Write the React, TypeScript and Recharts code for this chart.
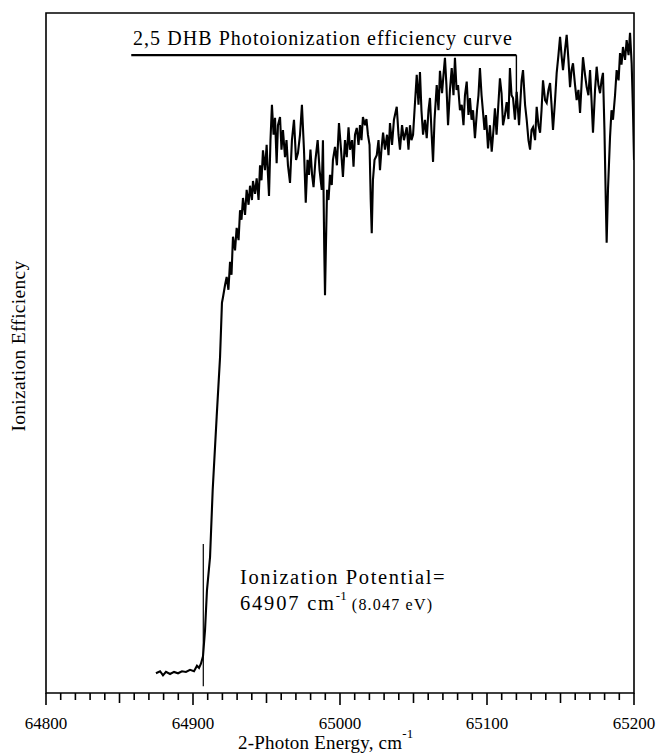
import { LineChart, Line, XAxis, YAxis, ReferenceArea, ReferenceLine, Customized } from 'recharts'

// [2-photon energy (cm-1), ionization efficiency (arb.)]
const ONSET: [number, number][] = [
  [64874.8, 2.9], [64877.6, 3.2], [64879.6, 2.6], [64881.6, 3.1], [64884.4, 2.8], [64887.1, 3.1],
  [64889.8, 2.9], [64892.5, 3.2], [64895.2, 3.1], [64898.0, 3.4], [64900.7, 3.2], [64902.7, 4.0],
  [64904.1, 3.7], [64905.4, 4.3], [64906.8, 5.4],
]

const RISE: [number, number][] = [
  [64908.2, 9.3], [64909.5, 15.1], [64911.6, 20.0], [64913.4, 29.9], [64916.1, 40.6], [64918.4, 49.4],
  [64919.7, 57.4], [64920.4, 58.2], [64921.8, 60.0], [64922.9, 61.2], [64924.1, 59.3], [64925.2, 63.4],
  [64926.2, 61.5], [64927.2, 67.1], [64928.6, 65.1], [64929.7, 68.4], [64931.0, 66.6], [64932.0, 71.0],
  [64933.0, 69.6], [64934.0, 72.8], [64935.4, 70.3], [64936.5, 74.0], [64937.8, 71.8], [64938.8, 74.6],
  [64940.1, 72.5], [64940.8, 75.3], [64942.2, 73.4], [64943.3, 75.7], [64944.6, 72.5], [64945.6, 77.6],
  [64946.6, 75.4], [64947.6, 79.8], [64949.0, 76.9], [64950.1, 80.6],
]

const PLATEAU_A: [number, number][] = [
  [64951.0, 76.2], [64951.7, 73.1], [64952.7, 81.3], [64953.7, 86.5], [64954.8, 82.1], [64955.8, 84.6],
  [64956.9, 77.9], [64957.8, 83.5], [64959.2, 84.7], [64960.2, 79.9], [64961.2, 82.8], [64962.6, 78.8],
  [64963.6, 81.3], [64964.6, 77.6], [64966.0, 75.0], [64967.3, 81.3], [64968.7, 84.3], [64970.1, 78.4],
  [64971.4, 79.4], [64972.8, 82.1], [64974.1, 86.5], [64975.5, 79.9], [64976.7, 72.1], [64977.9, 78.4],
  [64978.9, 76.2], [64979.9, 79.9], [64981.0, 76.2], [64982.0, 74.4], [64983.3, 78.4], [64984.8, 81.3],
  [64986.1, 76.9], [64987.6, 74.0], [64988.4, 81.3], [64989.3, 65.1], [64989.8, 58.5], [64990.5, 66.6],
  [64991.2, 74.0], [64992.2, 72.5], [64993.2, 76.2], [64994.4, 74.7], [64995.2, 78.4], [64996.6, 80.3],
  [64997.9, 77.6], [64999.3, 83.8],
]

const PLATEAU_B: [number, number][] = [
  [65000.7, 79.9], [65002.0, 75.9], [65003.4, 81.3], [65004.6, 78.8], [65005.8, 83.2], [65006.8, 79.9],
  [65008.2, 81.3], [65009.2, 77.4], [65010.2, 82.1], [65011.4, 83.1], [65012.6, 80.6], [65013.6, 83.5],
  [65014.6, 81.3], [65015.6, 84.7], [65017.0, 83.5], [65018.0, 84.4], [65019.0, 82.1], [65020.1, 80.6],
  [65020.9, 72.5], [65021.6, 67.6], [65022.4, 75.4], [65023.5, 78.4], [65025.0, 79.1], [65026.2, 81.3],
  [65027.2, 76.9], [65028.2, 79.9], [65029.3, 82.4], [65030.6, 79.9], [65032.0, 82.1], [65033.0, 79.1],
  [65034.0, 83.8], [65035.4, 80.6], [65036.7, 84.3], [65038.6, 86.2], [65039.8, 82.1], [65040.8, 79.9],
  [65042.2, 83.5], [65043.5, 81.3], [65045.4, 83.2], [65046.6, 79.9], [65047.6, 83.5], [65048.6, 81.3],
  [65049.7, 82.1], [65050.7, 85.7], [65052.2, 90.9], [65053.4, 86.5], [65054.4, 91.3], [65055.4, 85.7],
  [65056.5, 82.1], [65057.8, 84.3], [65059.0, 81.6], [65060.2, 85.7], [65061.2, 87.5], [65062.2, 82.8],
  [65063.3, 78.1], [65064.3, 84.3], [65065.8, 89.4], [65067.0, 85.7], [65068.0, 91.5], [65069.4, 88.2],
  [65070.4, 90.9], [65071.4, 93.4], [65072.4, 89.4], [65073.5, 83.5], [65074.8, 88.7], [65076.0, 91.9],
  [65077.2, 87.9], [65078.2, 93.4], [65079.3, 88.7], [65080.3, 89.4], [65081.6, 85.7], [65082.8, 86.5],
  [65084.0, 83.5], [65085.0, 87.9], [65086.2, 89.9], [65087.4, 85.0], [65088.4, 87.5], [65089.5, 84.3],
  [65090.5, 85.7], [65091.8, 81.6], [65093.2, 85.7], [65094.2, 87.9], [65095.2, 91.9], [65096.3, 87.9],
  [65097.3, 85.4], [65098.3, 82.8], [65099.3, 85.0],
]

const PLATEAU_C: [number, number][] = [
  [65100.7, 80.1], [65102.0, 83.5], [65103.2, 79.6], [65104.4, 82.8], [65105.4, 86.0], [65106.5, 82.1],
  [65107.5, 85.7], [65108.8, 90.4], [65109.9, 88.2], [65110.9, 83.5], [65112.2, 85.0], [65113.4, 86.9],
  [65114.6, 84.4], [65115.6, 91.9], [65116.7, 87.9], [65117.7, 87.5], [65119.0, 84.3], [65120.2, 88.4],
  [65121.8, 83.5], [65123.5, 90.0], [65124.5, 91.6], [65125.9, 86.5], [65127.0, 84.3], [65128.2, 81.3],
  [65129.3, 79.9], [65130.3, 82.8], [65131.3, 83.2], [65132.7, 81.3], [65133.8, 86.2], [65135.0, 83.5],
  [65136.1, 82.4], [65137.1, 85.7], [65138.1, 90.1], [65139.5, 87.2], [65140.6, 86.8], [65141.8, 88.7],
  [65142.9, 89.7], [65143.9, 86.5], [65144.9, 82.8], [65146.3, 87.2], [65147.4, 91.2], [65148.6, 93.8],
  [65149.7, 96.5], [65150.7, 93.8], [65151.7, 91.6], [65153.1, 94.6], [65154.2, 96.8], [65155.4, 93.1],
  [65156.5, 89.1], [65157.5, 91.6], [65158.5, 92.6], [65159.9, 89.4], [65161.0, 87.2], [65162.2, 88.7],
  [65163.3, 85.3], [65164.3, 89.4], [65165.3, 93.5], [65166.7, 90.9], [65167.8, 89.1], [65169.0, 87.9],
  [65170.1, 91.6], [65171.1, 87.2], [65172.1, 82.4], [65173.5, 88.7], [65174.6, 92.1], [65175.8, 89.4],
  [65176.9, 88.2], [65177.9, 90.1], [65178.9, 91.2], [65179.9, 82.8], [65180.8, 72.5], [65181.4, 66.2],
  [65182.3, 74.0], [65183.7, 81.8], [65184.7, 85.7], [65185.7, 84.3], [65187.1, 87.9], [65188.2, 91.6],
  [65189.5, 90.1], [65190.5, 94.1], [65191.5, 92.4], [65192.5, 95.0], [65193.9, 93.1], [65195.0, 96.0],
  [65196.3, 93.8], [65197.3, 97.1], [65198.4, 92.6], [65199.3, 85.7], [65200.0, 78.4],
]

const X_TICKS: number[] = []
for (let v = 64800; v <= 65200; v += 10) X_TICKS.push(v)

const IP_ENERGY = 64907
const BRACKET = { x1: 64858, x2: 65120, y: 93.8, yEnd: 87.6 }

const data = [...ONSET, ...RISE, ...PLATEAU_A, ...PLATEAU_B, ...PLATEAU_C].map(([e, v]) => ({
  energy: e,
  value: v,
}))

const FONT = '"Liberation Serif", "Times New Roman", serif'

function EnergyTick(props: any) {
  const { x, y, payload } = props
  const v = payload.value as number
  const major = v % 100 === 0
  const mid = !major && v % 50 === 0
  const len = major ? 12 : mid ? 10 : 7
  return (
    <g>
      <line x1={x} x2={x} y1={y} y2={y + len} stroke="#000" strokeWidth={1.6} />
      {major && (
        <text x={x} y={y + 36} textAnchor="middle" fontFamily={FONT} fontSize={17} fill="#000">
          {v}
        </text>
      )}
    </g>
  )
}

function Labels() {
  return (
    <g fontFamily={FONT} fill="#000">
      <text x={133} y={45} fontSize={20} letterSpacing={1.05}>
        2,5 DHB Photoionization efficiency curve
      </text>
      <text
        x={25}
        y={346}
        fontSize={19.5}
        letterSpacing={0.3}
        textAnchor="middle"
        transform="rotate(-90, 25, 346)"
      >
        Ionization Efficiency
      </text>
      <text x={238} y={749} fontSize={19} letterSpacing={0.2}>
        2-Photon Energy, cm<tspan fontSize={13} dy={-11}>-1</tspan>
      </text>
      <text x={240} y={584} fontSize={20.5} letterSpacing={1.6}>
        Ionization Potential=
      </text>
      <text x={240} y={610} fontSize={20.5} letterSpacing={1.8}>
        64907 cm<tspan fontSize={13} letterSpacing={0} dy={-10}>-1</tspan>
        <tspan fontSize={16} letterSpacing={1.2} dy={10}> (8.047 eV)</tspan>
      </text>
    </g>
  )
}

export default function App() {
  return (
    <div style={{ position: 'absolute', left: 0, top: 0, background: '#fff' }}>
      <LineChart
        width={657}
        height={755}
        data={data}
        margin={{ top: 13, right: 23, bottom: 32, left: 46 }}
      >
        <XAxis
          dataKey="energy"
          type="number"
          domain={[64800, 65200]}
          ticks={X_TICKS}
          interval={0}
          allowDataOverflow
          axisLine={false}
          tickLine={false}
          tickSize={0}
          tickMargin={0}
          height={30}
          tick={<EnergyTick />}
        />
        <YAxis type="number" domain={[0, 100]} hide allowDataOverflow />

        <ReferenceArea
          x1={64800}
          x2={65200}
          y1={0}
          y2={100}
          fill="none"
          stroke="#000"
          strokeWidth={1.6}
          fillOpacity={0}
        />

        <Line
          type="linear"
          dataKey="value"
          stroke="#000"
          strokeWidth={2.1}
          dot={false}
          isAnimationActive={false}
        />

        <ReferenceLine
          segment={[
            { x: IP_ENERGY, y: 1 },
            { x: IP_ENERGY, y: 21.9 },
          ]}
          stroke="#000"
          strokeWidth={1.2}
        />
        <ReferenceLine
          segment={[
            { x: BRACKET.x1, y: BRACKET.y },
            { x: BRACKET.x2, y: BRACKET.y },
          ]}
          stroke="#000"
          strokeWidth={2.4}
        />
        <ReferenceLine
          segment={[
            { x: BRACKET.x2, y: BRACKET.y },
            { x: BRACKET.x2, y: BRACKET.yEnd },
          ]}
          stroke="#000"
          strokeWidth={1.4}
        />

        <Customized component={Labels} />
      </LineChart>
    </div>
  )
}
